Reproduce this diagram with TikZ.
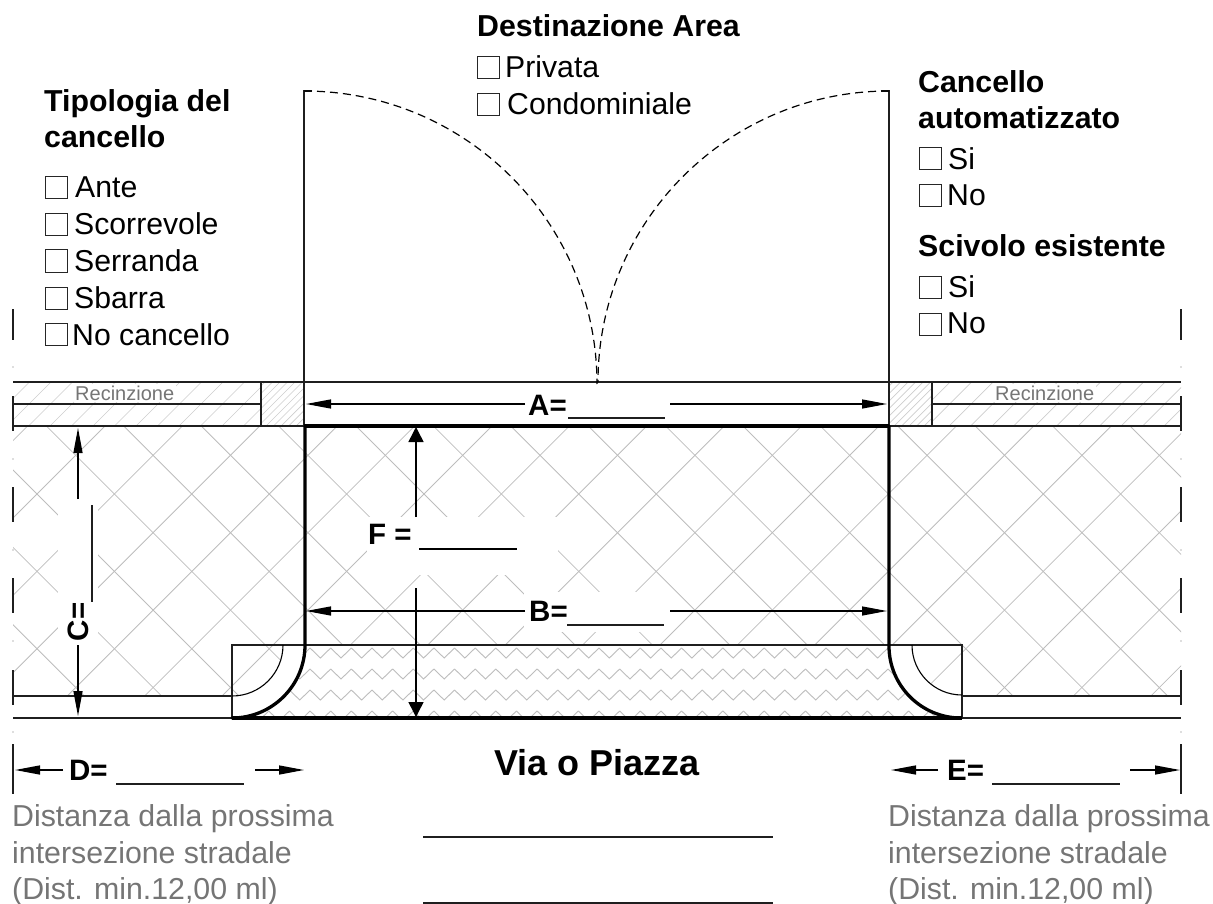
\documentclass[tikz,border=0pt]{standalone}
\usepackage{fontspec}
\setmainfont{Liberation Sans}
\usetikzlibrary{arrows.meta}
\definecolor{hatchc}{gray}{0.74}
\definecolor{labelc}{gray}{0.46}
\definecolor{darkl}{gray}{0.12}
\tikzset{
  x=1pt,y=-1pt,
  cross/.style={draw=hatchc,line width=0.8pt},
  fencehatch/.style={draw=hatchc!75,line width=0.7pt},
  zig/.style={draw=hatchc,line width=0.9pt},
  thinl/.style={draw=darkl,line width=1.4pt},
  thickl/.style={draw=black,line width=3.3pt},
  tickl/.style={draw=darkl,line width=1.8pt},
  dim/.style={draw=black,line width=1.3pt,-{Triangle[length=25pt,width=9pt]}},
  dimbig/.style={draw=black,line width=1.5pt,-{Triangle[length=15pt,width=15pt]}},
  blankl/.style={draw=darkl,line width=1.2pt},
  swing/.style={draw=black,line width=1.2pt,dash pattern=on 8pt off 5pt},
  cb/.style={draw=black!85,line width=1pt,minimum width=22pt,minimum height=22pt,inner sep=0pt,outer sep=0pt},
  txt/.style={anchor=base west,inner sep=0pt,font=\fontsize{30.2}{30}\selectfont},
  head/.style={anchor=base west,inner sep=0pt,font=\fontsize{30.3}{30}\selectfont\bfseries},
  gtxt/.style={anchor=base west,inner sep=0pt,text=labelc,font=\fontsize{30.3}{30}\selectfont},
  rec/.style={anchor=base west,inner sep=1.5pt,text=labelc,fill=white,font=\fontsize{20}{20}\selectfont},
  dlab/.style={inner sep=0pt,font=\fontsize{29.5}{30}\selectfont\bfseries},
}
\begin{document}
\begin{tikzpicture}
\useasboundingbox (0,0) rectangle (1213,904);
% cross hatching
\begin{scope}
  \clip (13,426) rectangle (1181,696);
  \foreach \k in {-3,...,19} {
    \draw[cross] ({531+77.4*\k-300},300) -- ({531+77.4*\k-800},800);
  }
  \foreach \k in {-4,...,17} {
    \draw[cross] ({-457+77.4*\k+300},300) -- ({-457+77.4*\k+800},800);
  }
\end{scope}
% clear areas round the labels
\fill[white] (58,505) rectangle (98,640);
\fill[white] (367,517) rectangle (558,575);
\fill[white] (524,592) rectangle (668,632);
\fill[white] (283,645) arc[start angle=0,end angle=90,radius=51] -- (232,718) -- (962,718) -- (962,695) arc[start angle=90,end angle=180,radius=50] -- cycle;
% road zigzag
\begin{scope}
  \clip (305,645) arc[start angle=0,end angle=90,radius=73] -- (961,718) arc[start angle=90,end angle=180,radius=72] -- cycle;
  \foreach \r in {0,1,2,3} {
    \foreach \i in {-6,...,30} {
      \draw[zig] ({330.7+20.64*\i},{648+21*\r}) -- ({341+20.64*\i},{658+21*\r}) -- ({351.34+20.64*\i},{648+21*\r});
    }
  }
\end{scope}
% fence hatching
\begin{scope}
  \clip (13,382) rectangle (261,426);
  \foreach \k in {-18,...,14} { \draw[fencehatch] ({395+21.5*\k},382) -- ({351+21.5*\k},426) ; }
\end{scope}
\begin{scope}
  \clip (932,382) rectangle (1181,426);
  \foreach \k in {-2,...,14} { \draw[fencehatch] ({950+21.5*\k},382) -- ({906+21.5*\k},426) ; }
\end{scope}
\begin{scope}
  \clip (261,382) rectangle (304,426);
  \foreach \k in {0,...,12} { \draw[fencehatch] ({265+7.5*\k},382) -- ({221+7.5*\k},426) ; }
\end{scope}
\begin{scope}
  \clip (889,382) rectangle (932,426);
  \foreach \k in {0,...,12} { \draw[fencehatch] ({893+7.5*\k},382) -- ({849+7.5*\k},426) ; }
\end{scope}
\node[rec] (recL) at (73.5,400) {Recinzione};
\node[rec] (recR) at (993.5,400) {Recinzione};
% fence and walls
\draw[thinl] (13,382) -- (1181,382);
\draw[thinl] (13,426) -- (1181,426);
\draw[thinl] (13,404) -- (261,404);
\draw[thinl] (932,404) -- (1181,404);
\draw[thinl] (261,382) -- (261,426);
\draw[thinl] (932,382) -- (932,426);
\draw[thinl] (304,426) -- (304,91) -- (312,91);
\draw[thinl] (889,426) -- (889,91) -- (881,91);
% door swing
\draw[swing] (304,91) arc[start angle=-90,end angle=0,radius=293];
\draw[swing] (889,91) arc[start angle=-90,end angle=-180,radius=291];
% road
\draw[thinl] (232,645) rectangle (962,718);
\draw[thinl] (13,696) -- (232,696);
\draw[thinl] (13,718) -- (232,718);
\draw[thinl] (962,696) -- (1181,696);
\draw[thinl] (962,718) -- (1181,718);
\draw[draw=black,line width=1.1pt] (283,645) arc[start angle=0,end angle=90,radius=51];
\draw[draw=black,line width=1.1pt] (912,645) arc[start angle=180,end angle=90,radius=50];
\draw[thickl] (304,426) -- (889,426);
\draw[thickl,line cap=round] (232,718) arc[start angle=90,end angle=0,radius=73] -- (305,426);
\draw[thickl] (232,718) -- (962,718);
\draw[thickl,line cap=round] (961,718) arc[start angle=90,end angle=180,radius=72] -- (889,426);
% centre-line ticks
\foreach \xx in {13,1181} {
  \draw[tickl] (\xx,309) -- (\xx,340);
  \draw[tickl] (\xx,396) -- (\xx,431);
  \draw[tickl] (\xx,487) -- (\xx,522);
  \draw[tickl] (\xx,578) -- (\xx,613);
  \draw[tickl] (\xx,670) -- (\xx,705);
  \draw[tickl] (\xx,744) -- (\xx,794);
  \foreach \yy in {367,459,550,641,732} { \fill[hatchc] (\xx,\yy) circle[radius=0.9]; }
}
% dimension A
\node[dlab,anchor=base west] (A) at (528,415) {A=};
\coordinate (Al) at (306,404); \coordinate (Ar) at (887,404);
\coordinate (Als) at (525,404); \coordinate (Ars) at (670,404);
\draw[dim] (Als) -- (Al);
\draw[dim] (Ars) -- (Ar);
\coordinate (Au1) at (568,418); \coordinate (Au2) at (665,418);
\draw[blankl] (Au1) -- (Au2);
% dimension B
\node[dlab,anchor=base west] (B) at (529,621) {B=};
\coordinate (Bl) at (306,611); \coordinate (Br) at (887,611);
\coordinate (Bls) at (525,611); \coordinate (Brs) at (670,611);
\draw[dim] (Bls) -- (Bl);
\draw[dim] (Brs) -- (Br);
\coordinate (Bu1) at (567,625); \coordinate (Bu2) at (664,625);
\draw[blankl] (Bu1) -- (Bu2);
% dimension F
\node[dlab,anchor=base west] (F) at (368,544) {F =};
\coordinate (Ft) at (416,427); \coordinate (Fts) at (416,517);
\coordinate (Fb) at (416,717); \coordinate (Fbs) at (416,588);
\draw[dimbig] (Fts) -- (Ft);
\draw[dimbig] (Fbs) -- (Fb);
\coordinate (Fu1) at (419,549); \coordinate (Fu2) at (517,549);
\draw[draw=black,line width=1.5pt] (Fu1) -- (Fu2);
% dimension C
\node[dlab,rotate=90,anchor=center] (C) at (78,622) {C=};
\coordinate (Ct) at (78,428); \coordinate (Cts) at (78,499);
\coordinate (Cb) at (78,716); \coordinate (Cbs) at (78,645);
\draw[dim] (Cts) -- (Ct);
\draw[dim] (Cbs) -- (Cb);
\coordinate (Cu1) at (92,505); \coordinate (Cu2) at (92,602);
\draw[blankl] (Cu1) -- (Cu2);
% dimension D
\node[dlab,anchor=base west] (D) at (69,780) {D=};
\coordinate (Dl) at (15,770); \coordinate (Dls) at (63,770);
\coordinate (Dr) at (304,770); \coordinate (Drs) at (255,770);
\draw[dim] (Dls) -- (Dl);
\draw[dim] (Drs) -- (Dr);
\coordinate (Du1) at (116,784); \coordinate (Du2) at (244,784);
\draw[blankl] (Du1) -- (Du2);
% dimension E
\node[dlab,anchor=base west] (E) at (947,780) {E=};
\coordinate (El) at (891,770); \coordinate (Els) at (938,770);
\coordinate (Er) at (1180,770); \coordinate (Ers) at (1130,770);
\draw[dim] (Els) -- (El);
\draw[dim] (Ers) -- (Er);
\coordinate (Eu1) at (992,784); \coordinate (Eu2) at (1120,784);
\draw[blankl] (Eu1) -- (Eu2);
% road name
\node[anchor=base,inner sep=0pt,font=\fontsize{36}{36}\selectfont\bfseries] (via) at (597,775) {Via o Piazza};
\coordinate (v1) at (423,837); \coordinate (v2) at (773,837);
\coordinate (v3) at (423,903); \coordinate (v4) at (773,903);
\draw[blankl] (v1) -- (v2);
\draw[blankl] (v3) -- (v4);
% grey notes
\node[gtxt] (dl1) at (12,826) {Distanza dalla prossima};
\node[gtxt] (dl2) at (12,863) {intersezione stradale};
\node[gtxt] (dl3) at (12,899) {(Dist. min.12,00 ml)};
\node[gtxt] (dr1) at (888,826) {Distanza dalla prossima};
\node[gtxt] (dr2) at (888,863) {intersezione stradale};
\node[gtxt] (dr3) at (888,899) {(Dist. min.12,00 ml)};
% left list
\node[head] (t1) at (44,112) {Tipologia del};
\node[head] (t2) at (44,148) {cancello};
\node[cb] (b1) at (56,188) {}; \node[txt] (l1) at (75,198) {Ante};
\node[cb] (b2) at (56,225) {}; \node[txt] (l2) at (74,235) {Scorrevole};
\node[cb] (b3) at (56,261) {}; \node[txt] (l3) at (74,272) {Serranda};
\node[cb] (b4) at (56,298) {}; \node[txt] (l4) at (74,308) {Sbarra};
\node[cb] (b5) at (56,334) {}; \node[txt] (l5) at (72,345) {No cancello};
% top list
\node[head] (t3) at (477,37) {Destinazione Area};
\node[cb] (b6) at (488,68) {}; \node[txt] (l6) at (505,78) {Privata};
\node[cb] (b7) at (488,105) {}; \node[txt] (l7) at (507,115) {Condominiale};
% right list
\node[head] (t4) at (918,93) {Cancello};
\node[head] (t5) at (918,129) {automatizzato};
\node[cb] (b8) at (930,159) {}; \node[txt] (l8) at (948,170) {Si};
\node[cb] (b9) at (930,196) {}; \node[txt] (l9) at (947,206) {No};
\node[head] (t6) at (918,257) {Scivolo esistente};
\node[cb] (b10) at (930,287) {}; \node[txt] (l10) at (948,297) {Si};
\node[cb] (b11) at (930,324) {}; \node[txt] (l11) at (947,333) {No};
\end{tikzpicture}
\end{document}
